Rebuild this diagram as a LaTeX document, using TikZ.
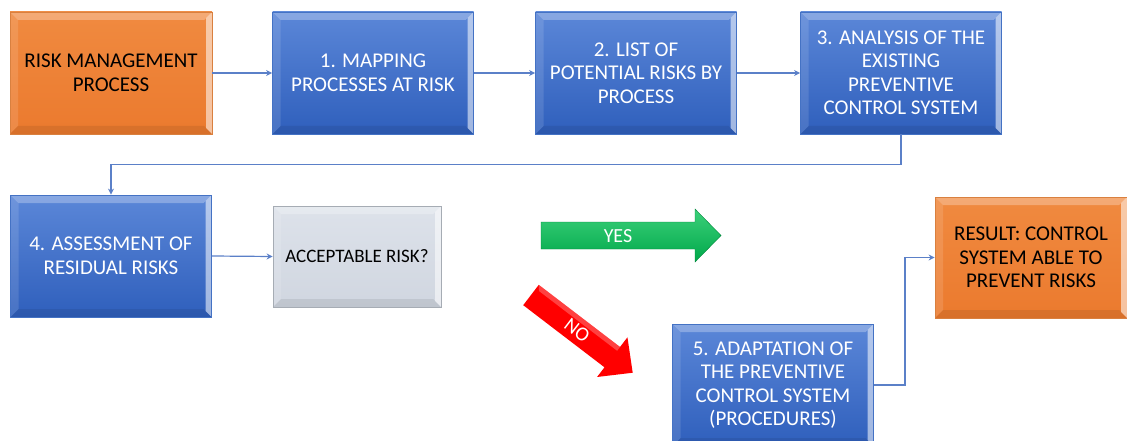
\documentclass[tikz,border=0pt]{standalone}
\usepackage{fontspec}
\setmainfont{Carlito}
\usetikzlibrary{arrows.meta}
\definecolor{bluetop}{HTML}{5B87D8}
\definecolor{bluebot}{HTML}{2F5FBC}
\definecolor{blueline}{HTML}{4472C4}
\definecolor{conn}{HTML}{5B80C8}
\definecolor{orangetop}{HTML}{F08A40}
\definecolor{orangebot}{HTML}{EB7A2E}
\definecolor{orangeline}{HTML}{D9803F}
\definecolor{graytop}{HTML}{DDE2EA}
\definecolor{graybot}{HTML}{D0D6E0}
\definecolor{grayline}{HTML}{A6ACB4}
\definecolor{greentop}{HTML}{3CD07A}
\definecolor{greenbot}{HTML}{00A84A}
\definecolor{redfill}{HTML}{FF0000}
\tikzset{
  bevel/.style={path picture={
    \fill[white,opacity=0.28] (path picture bounding box.north west) -- (path picture bounding box.north east)
      -- ([xshift=-8pt,yshift=-8pt]path picture bounding box.north east) -- ([xshift=8pt,yshift=-8pt]path picture bounding box.north west) -- cycle;
    \fill[white,opacity=0.12] (path picture bounding box.north west) -- ([xshift=8pt,yshift=-8pt]path picture bounding box.north west)
      -- ([xshift=8pt,yshift=8pt]path picture bounding box.south west) -- (path picture bounding box.south west) -- cycle;
    \fill[black,opacity=0.08] (path picture bounding box.south west) -- ([xshift=8pt,yshift=8pt]path picture bounding box.south west)
      -- ([xshift=-8pt,yshift=8pt]path picture bounding box.south east) -- (path picture bounding box.south east) -- cycle;
    \fill[white,opacity=0.55] (path picture bounding box.north east) -- (path picture bounding box.south east)
      -- ([xshift=-6pt,yshift=6pt]path picture bounding box.south east) -- ([xshift=-6pt,yshift=-6pt]path picture bounding box.north east) -- cycle;
  }},
  boxbase/.style={rectangle, inner sep=0pt, align=center, bevel,
    font=\fontsize{21}{23.5}\selectfont, line width=0.8pt},
  bluebox/.style={boxbase, top color=bluetop, bottom color=bluebot, draw=blueline, text=white,
    minimum width=201pt, minimum height=122pt},
  orangebox/.style={boxbase, top color=orangetop, bottom color=orangebot, draw=orangeline, text=black,
    minimum width=202pt, minimum height=122pt},
  graybox/.style={boxbase, top color=graytop, bottom color=graybot, draw=grayline, text=black,
    minimum width=168pt, minimum height=101pt, font=\fontsize{19}{22}\selectfont},
  connector/.style={draw=conn, line width=1.2pt, -{Stealth[length=6pt,width=6pt]}},
  arrowtext/.style={text=white, font=\fontsize{20}{22}\selectfont, inner sep=0pt},
}
\begin{document}
\begin{tikzpicture}[x=1pt,y=-1pt]
\useasboundingbox (0,0) rectangle (1127,441);
% top row
\node[orangebox] (rmp) at (111,73) {RISK MANAGEMENT\\PROCESS};
\node[bluebox] (b1) at (373,73) {1. MAPPING\\PROCESSES AT RISK};
\node[bluebox] (b2) at (636,73) {2. LIST OF\\POTENTIAL RISKS BY\\PROCESS};
\node[bluebox] (b3) at (901,73) {3. ANALYSIS OF THE\\EXISTING\\PREVENTIVE\\CONTROL SYSTEM};
% second row
\node[bluebox] (b4) at (111,256) {4. ASSESSMENT OF\\RESIDUAL RISKS};
\node[graybox] (acc) at (357,256.5) {ACCEPTABLE RISK?};
\node[orangebox, minimum width=192pt, minimum height=121pt] (res) at (1031,257.5) {RESULT: CONTROL\\SYSTEM ABLE TO\\PREVENT RISKS};
\node[bluebox] (b5) at (773,385) {5. ADAPTATION OF\\THE PREVENTIVE\\CONTROL SYSTEM\\(PROCEDURES)};
% connectors
\draw[connector] (rmp.east) -- (b1.west);
\draw[connector] (b1.east) -- (b2.west);
\draw[connector] (b2.east) -- (b3.west);
\draw[connector] (b3.south) -- ++(0,30) -| (b4.north);
\draw[connector] (b4.east) -- (acc.west);
\draw[connector] (b5.east) -- ++(31,0) |- (res.west);
% YES arrow
\shade[top color=greentop, bottom color=greenbot, draw=greenbot!80!black, line width=0.4pt]
  (541,222) -- (695,222) -- (695,209) -- (721,235.5) -- (695,262) -- (695,249) -- (541,249) -- cycle;
\node[arrowtext] (yes) at (618,236) {YES};
% NO arrow
\begin{scope}[shift={(531,295)}, rotate=-37.4]
  \fill[redfill] (0,-12.8) -- (102.3,-12.8) -- (102.3,-25) -- (128,0) -- (102.3,25) -- (102.3,12.8) -- (0,12.8) -- cycle;
  \fill[white,opacity=0.25] (0,-12.8) -- (102.3,-12.8) -- (102.3,-8) -- (4,-8) -- cycle;
  \node[arrowtext, rotate=-37.4] (no) at (58,0) {NO};
\end{scope}
\end{tikzpicture}
\end{document}
